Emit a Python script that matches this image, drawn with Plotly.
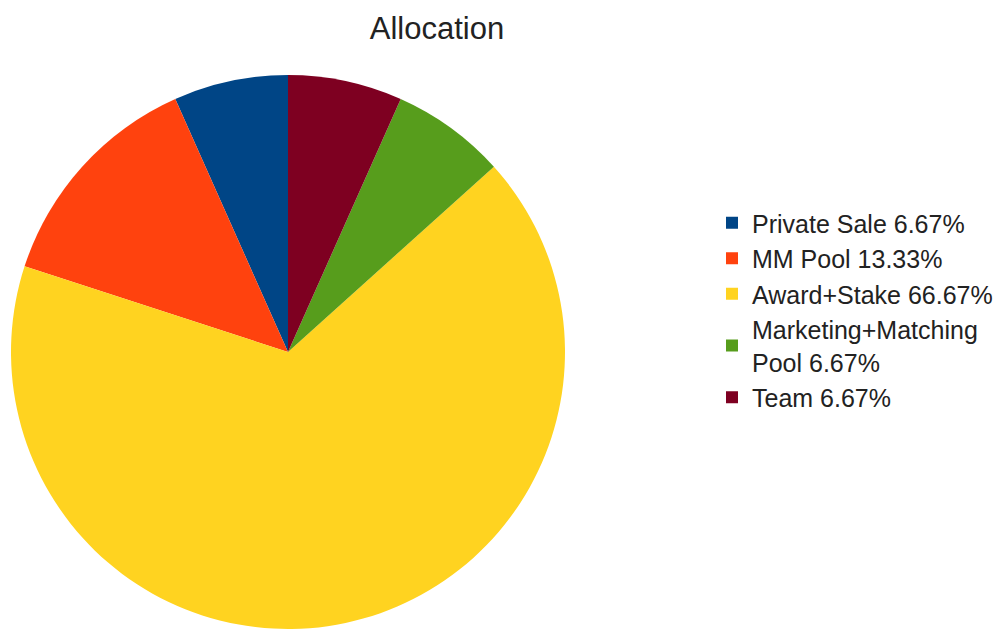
import plotly.graph_objects as go

labels = ["Private Sale 6.67%", "MM Pool 13.33%", "Award+Stake 66.67%",
          "Marketing+Matching<br>Pool 6.67%", "Team 6.67%"]
values = [6.67, 13.33, 66.67, 6.67, 6.67]
colors = ["#004586", "#ff420e", "#ffd320", "#579d1c", "#7e0021"]

W, H = 1001, 635
cx, cy, r = 288, 352, 277

fig = go.Figure(go.Pie(
    labels=labels, values=values, sort=False, direction="counterclockwise",
    rotation=-values[0] / sum(values) * 360, textinfo="none", hoverinfo="label",
    marker=dict(colors=colors, line=dict(width=0)),
    domain=dict(x=[(cx - r) / W, (cx + r) / W], y=[1 - (cy + r) / H, 1 - (cy - r) / H]),
))

fig.update_layout(
    width=W, height=H,
    margin=dict(l=0, r=0, t=0, b=0),
    paper_bgcolor="white", plot_bgcolor="white",
    font=dict(family="Liberation Sans", color="#222222"),
    title=dict(text="Allocation", x=437 / W, xanchor="center", y=1 - 28 / H,
               yanchor="middle", yref="container", font=dict(size=31, color="#222222")),
    legend=dict(x=712 / W, xanchor="left", y=1 - 200 / H, yanchor="top",
                font=dict(size=25, color="#222222"), bgcolor="rgba(0,0,0,0)",
                traceorder="normal"),
)

fig.write_html("out.html")
